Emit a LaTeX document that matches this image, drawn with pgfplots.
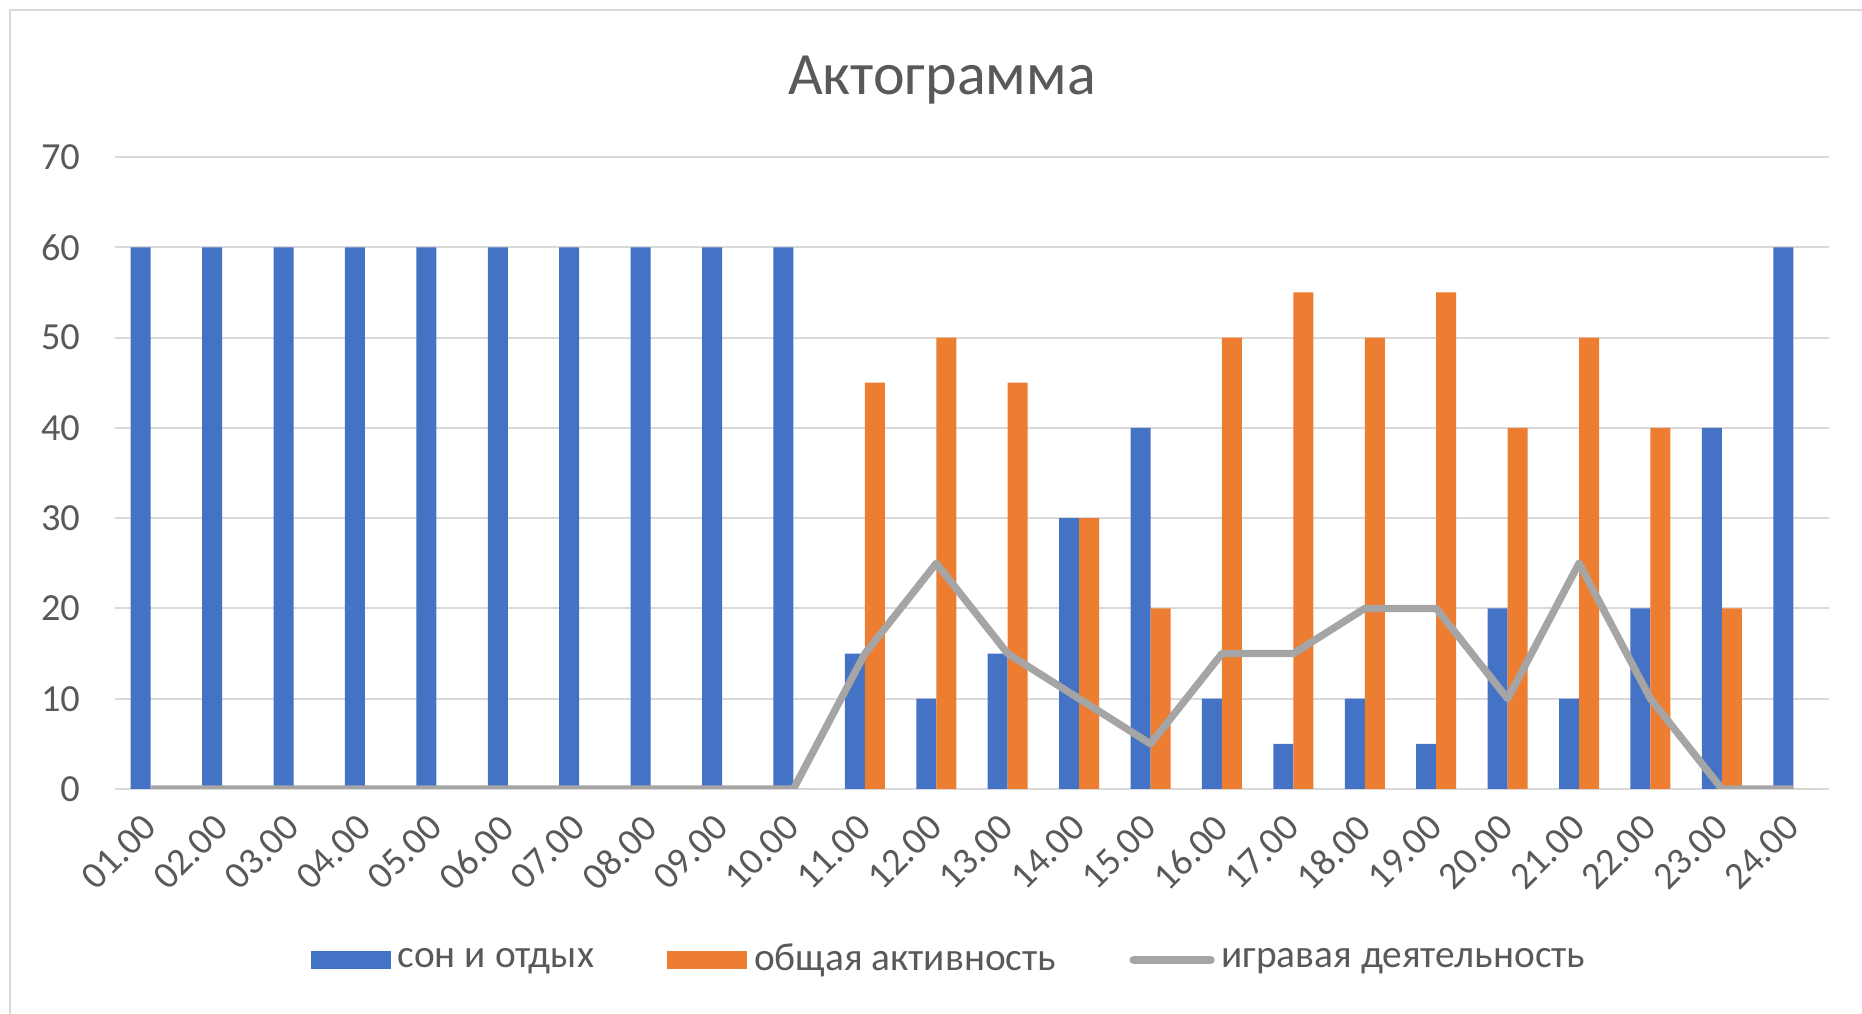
\documentclass[border=0pt]{standalone}
\usepackage{pgfplots}
\pgfplotsset{compat=1.18}
\usepackage{fontspec}
\setmainfont{Carlito}
\definecolor{cblue}{HTML}{4472C4}
\definecolor{corange}{HTML}{ED7D31}
\definecolor{cgray}{HTML}{A5A5A5}
\definecolor{ctext}{HTML}{595959}
\definecolor{cgrid}{HTML}{D9D9D9}
\begin{document}
\begin{tikzpicture}
\useasboundingbox (-34.5pt,-67.5pt) rectangle (524.1pt,236.7pt);
\draw[cgrid, line width=0.7pt] (-31.5pt,-67.5pt) -- (-31.5pt,233.7pt) -- (524.1pt,233.7pt);
\begin{axis}[
  scale only axis,
  width=514.2pt, height=189.6pt,
  xmin=0.5, xmax=24.5, ymin=0, ymax=70,
  ytick={0,10,...,70},
  xtick={1,...,24},
  xticklabels={01.00,02.00,03.00,04.00,05.00,06.00,07.00,08.00,09.00,10.00,11.00,12.00,13.00,14.00,15.00,16.00,17.00,18.00,19.00,20.00,21.00,22.00,23.00,24.00},
  /pgf/number format/assume math mode=true,
  axis line style={draw=none},
  major tick length=0pt,
  ymajorgrids,
  grid style={cgrid, line width=0.6pt},
  tick label style={font=\fontsize{11.5}{13}\selectfont, text=ctext},
  yticklabel style={xshift=-7pt},
  xticklabel style={xshift=-2.9pt, yshift=-5.3pt, rotate=45, anchor=north east, inner sep=1pt},
  legend columns=3,
  legend style={at={(0.488,-0.2706)}, anchor=center, draw=none, fill=none,
    font=\fontsize{11.8}{13}\selectfont, text=ctext,
    /tikz/every even column/.append style={column sep=20pt}},
  legend cell align=left,
]
\addplot[ybar, bar width=6pt, bar shift=-3pt, fill=cblue, draw=none,
  legend image code/.code={\fill[cblue] (0pt,-2.6pt) rectangle (24pt,2.6pt);}]
coordinates {(1,60)(2,60)(3,60)(4,60)(5,60)(6,60)(7,60)(8,60)(9,60)(10,60)
(11,15)(12,10)(13,15)(14,30)(15,40)(16,10)(17,5)(18,10)(19,5)(20,20)(21,10)(22,20)(23,40)(24,60)};
\addlegendentry{сон и отдых}
\addplot[ybar, bar width=6pt, bar shift=3pt, fill=corange, draw=none,
  legend image code/.code={\fill[corange] (0pt,-2.6pt) rectangle (24pt,2.6pt);}]
coordinates {(1,0)(2,0)(3,0)(4,0)(5,0)(6,0)(7,0)(8,0)(9,0)(10,0)
(11,45)(12,50)(13,45)(14,30)(15,20)(16,50)(17,55)(18,50)(19,55)(20,40)(21,50)(22,40)(23,20)(24,0)};
\addlegendentry{общая активность}
\addplot[sharp plot, cgray, line width=2.2pt, line join=round, mark=none,
  legend image code/.code={\draw[cgray, line width=2.6pt, line cap=round] (1pt,0pt) -- (24pt,0pt);}]
coordinates {(1,0)(2,0)(3,0)(4,0)(5,0)(6,0)(7,0)(8,0)(9,0)(10,0)
(11,15)(12,25)(13,15)(14,10)(15,5)(16,15)(17,15)(18,20)(19,20)(20,10)(21,25)(22,10)(23,0)(24,0)};
\addlegendentry{игравая деятельность}
\end{axis}
\node[anchor=base, font=\fontsize{18}{21}\selectfont, text=ctext] at (248.1pt,208.2pt) {Актограмма};
\end{tikzpicture}
\end{document}
